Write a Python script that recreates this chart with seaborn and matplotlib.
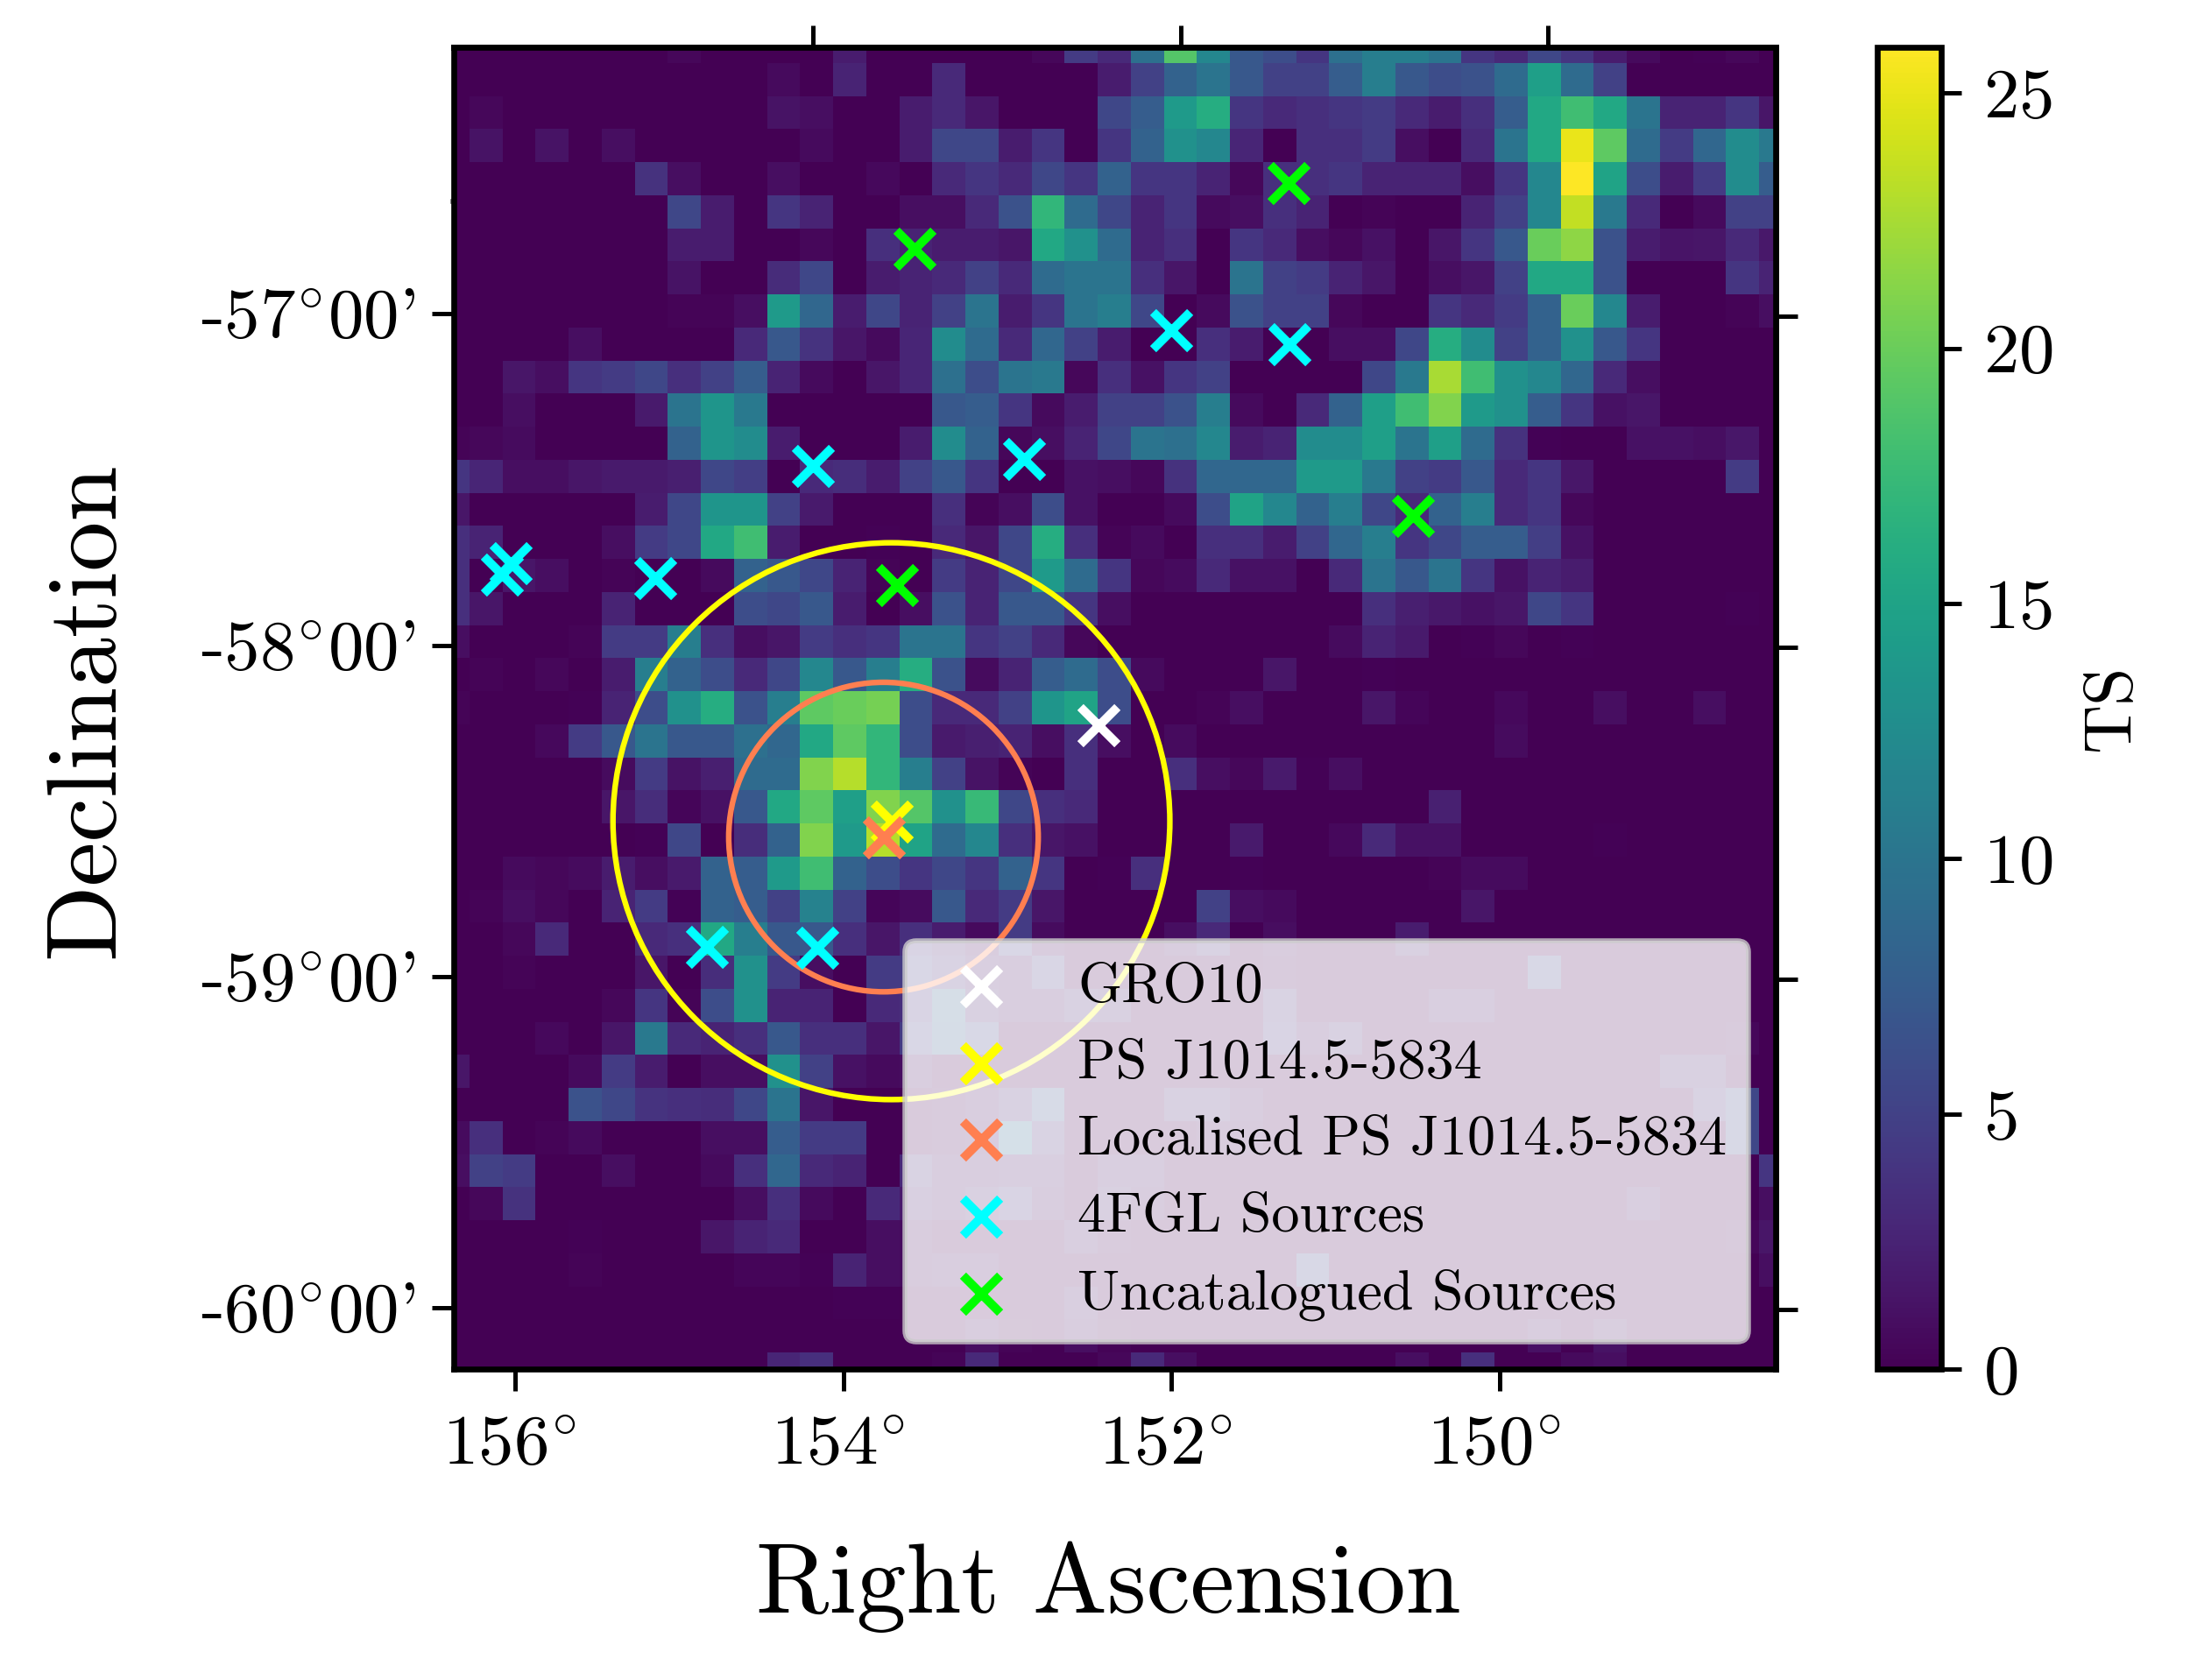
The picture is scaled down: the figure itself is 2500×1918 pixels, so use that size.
import numpy as np
import pandas as pd
import matplotlib
matplotlib.use("Agg")
import matplotlib.pyplot as plt
from matplotlib.patches import Circle
from matplotlib.transforms import ScaledTranslation
import seaborn as sns

# TS map, one list per image row (top to bottom), 41 columns
ts_rows = [
 [0,0,0,0,0,0,0,.5,0,0,0,0,2,0, 0,0,0,0,.5,4.5,3,9.5,19,12,7,6,4,9.5, 11,11,10,4,3,5.5,4,2,.7,0,.2,.5,0],
 [0,0,0,0,0,0,0,0,0,0,.7,0,2.5,0, 0,3,0,0,0,0,2,5,8,10,7,5,5,7.5, 11,7,6,6.5,9,14.5,9,5,0,0,0,0,0],
 [0,.5,0,0,0,0,0,0,0,0,1.3,1,0,0, 2,3,1.5,0,0,0,5.5,7.5,14,16,4,3,3.5,4, 4.5,3,2,3.5,7.5,15.5,18,15.5,10,2.5,2.5,4,1.5],
 [0,1.3,0,1.3,0,1,0,0,0,0,0,.7,0,0, 2,5.5,5.5,2,4,0,4,8,13,12,2.7,0,3.5,3.5, 4.5,1,0,3,10,15.5,25,19.5,9,4.5,8.5,12.5,10.5],
 [0,0,0,0,0,0,3.7,1,0,0,1,0,0,.6, 0,3,4,3,5.5,4,8,4,4,2.5,.5,3.5,3.5,4, 2.5,2.5,2.5,1,4,12,26,15,6,2,4.5,12.5,7.5],
 [0,0,0,0,0,0,0,5.5,2,0,4,2.5,0,0, 1,1,3,6.5,17,9,5.5,2.5,4,.7,1,3.5,2.5,0, .3,0,0,2.5,5,12,23.5,10.5,3,0,.7,5,5],
 [0,0,0,0,0,0,0,2,2,0,0,.5,0,3.5, 2.5,2,2,1.5,15.5,13,9,2.5,3.5,0,4,3,1,.5, 1.2,0,1.5,4,7,20,21.5,6.5,2,1.4,1.5,3,1.7],
 [0,0,0,0,0,0,0,1.3,0,0,3.2,5.5,0,2, 2.5,3,5,3,9,10,10,3.5,1.5,0,10,5,4.5,2.5, 1.5,0,1,1.5,5,15.5,15.5,6.5,0,0,0,4,2.5],
 [0,0,0,0,0,0,0,.3,.3,1,14,8.5,2,5.5, 2.5,5,10,2,4,10,11,5.5,0,.7,6.5,5,5,.5, 0,0,4,3,4.5,8,20,12,2,0,0,.3,1],
 [0,0,0,0,1,0,0,0,0,3,7,3.8,1.5,.7, 2.7,12.5,9,3,8.5,5,2,0,0,3.5,2,0,0,1, 1,5.5,16,12.5,5,8,13,7,4,0,0,.1,0],
 [0,0,1.5,1,4,4.5,5.5,3.5,5,7.5,2.5,.7,0,1.5, 2.7,9.5,6,10,10.5,.5,3.5,1.2,4,5,0,0,0,0, 5.5,10.5,22.5,18,13,12,8.5,3,1,0,0,0,0],
 [0,0,1,0,0,0,1.8,10,13.5,10.5,0,0,0,0, 0,7,7.5,4,.7,2,5,5,6.5,11,.7,0,3,8, 14.5,18,21,14,13,7.5,4,1.2,1.5,0,0,0,0],
 [.3,.5,.8,0,0,0,0,8,13.5,12.5,2,0,0,0, 2,12.5,8,.5,1,2.5,5.5,10,9.5,12,2,2.5,12.5,12.5, 14.5,10,14.5,9,3.7,.2,0,0,1.2,1.2,1,1.6,0],
 [4,2.7,1,1,1.5,1.8,1.8,2.2,5.5,4.7,0,3,3.3,2, 5,7,4,0,0,1.2,1,.5,3.7,8.5,8.5,8.5,14,14, 10.5,5,4.5,7,3,4,1.6,0,0,0,0,4.5,0],
 [1.5,0,0,0,0,0,2,5.5,13.5,13.5,5,1.8,0,0, 0,3.5,.3,1,6,1.2,0,0,.7,6,15,12,8,11, 5.5,3,8,11,3,4,.5,0,0,0,0,0,0],
 [3.5,2.5,0,0,0,1,4.5,5.5,15.5,18,2,0,0,.2, 0,3,1.5,5.5,16,3.5,.3,.7,0,3.5,3.5,2,5,8.5, 11,4,5.5,7.5,7.5,4.7,1.2,0,0,0,0,0,0],
 [3.5,0,1.5,1,0,.3,0,0,.7,8,7,5.5,2.5,.3, 0,4.5,2.5,5.5,14,9,4,.5,.8,3,1.2,1.2,0,3, 10,7,10,4,1.2,2.5,2,0,0,0,0,0,0],
 [3.5,1.5,0,0,0,2.5,0,0,0,6,5.5,7,2,0, 1,6.5,2.5,7,7,4,1,0,0,0,0,0,0,0, 3.5,2.2,1.7,1.2,1.5,5.5,4,0,0,0,0,.2,0],
 [1,0,0,0,.3,4.5,4.5,11,3.5,1,1.5,4.5,3.5,4, 10,10,4,5,3,.5,0,0,0,0,0,0,0,.8, 2.5,1.8,0,.2,.5,0,.2,0,0,0,0,0,0],
 [.1,.3,0,.5,0,2,11,8,6,3,5.5,12,7,11, 16,6.5,.8,2.5,7.5,9,6,.7,0,0,0,1.5,0,0, .2,0,0,0,0,0,0,0,0,0,0,0,0],
 [.3,0,0,0,.2,2.5,6,13,16,6.5,11,19.5,20,20.5, 6,3,3,5,13.5,15,6,0,0,.3,1,0,0,0, 1.5,.4,0,0,.6,0,0,1,0,0,1,0,0],
 [0,0,0,.6,4.5,7,10,7,7,9.5,8.5,15.5,19.5,17, 6,1.8,2.2,2.5,1,3.5,1,0,.8,0,0,0,0,0, 0,0,0,0,.8,0,0,0,0,0,0,0,0],
 [0,0,0,0,0,.8,4.5,1.3,2.2,9,9,21,23,17, 11,5,1.3,.3,0,3.5,0,0,3.5,1,.5,1.8,.2,1, 0,0,0,0,0,0,0,0,0,0,0,0,0],
 [0,0,0,0,0,1.5,3.3,.4,1.2,7,15.5,19.5,14.5,21, 19,13,17.5,5.5,3.5,3,0,0,0,0,0,0,0,0, 0,0,2.3,0,0,0,0,0,0,0,0,0,0],
 [0,0,0,0,0,0,.2,5.5,0,3.3,8,21,14,23, 15,9,12,3.5,1.5,1.2,0,0,0,0,1.8,0,0,.6, 3,1.2,1.2,0,0,0,0,.2,0,0,0,0,0],
 [0,0,.7,.5,.8,2,1,1.8,8,7.5,14,18,8,6, 4,5.5,4,8,4,0,.2,3.5,0,0,.2,0,0,0, 0,0,.3,.8,.8,0,0,0,0,0,0,0,0],
 [0,.3,1,.5,0,2.5,4.5,.2,8,7.5,5,11.5,5,.4, .8,7,3,4.5,1.5,0,0,0,0,5,1,.7,0,0, 0,0,0,1.5,0,0,0,0,0,0,0,0,0],
 [0,0,.5,3,0,0,3,3.5,15.5,11,7,7,3.5,1.5, 3.5,2,.7,4.5,.8,0,0,0,1,3,0,.9,0,0, 0,2,0,0,0,0,0,0,0,0,0,0,0],
 [0,0,.3,0,0,0,1.5,0,3.3,13,4.5,1,0,4.5, 4.5,3,1.5,1,4,0,0,0,0,0,0,.5,0,0, 0,0,0,0,0,5,0,0,0,0,0,0,0],
 [0,0,0,0,0,.5,4,.3,6,13,2.5,2.5,0,3, 3.5,7.5,2,1,1,2.5,2,0,0,0,0,3,0,0, 0,0,1.5,1.5,0,0,0,0,0,0,0,0,0],
 [0,0,0,.6,0,1.5,10.5,3,2.5,3.5,7,3.5,3.5,1.5, 4.5,7,5,0,0,0,0,0,0,0,0,3.5,1,2.5, 0,0,0,0,0,0,0,0,0,0,0,.5,0],
 [1.5,0,0,0,.7,4.5,2,0,1,1,13,5,1.2,.7, 1,0,0,0,0,0,0,0,0,0,0,0,0,0, 0,0,0,0,0,0,0,0,0,2,2,0,0],
 [0,0,0,0,6.5,5.5,3.8,3.5,3.3,5.5,10,1.5,0,0, 0,.5,1,2.5,6.5,0,0,0,2.5,2.5,1,0,0,0, 0,0,0,0,0,0,0,0,0,0,3,5.5,0],
 [.8,3.5,0,.3,.7,0,0,0,1,1,7.5,4.5,4.5,0, 0,.5,.8,8.5,3,0,0,0,0,.7,.7,0,0,0, 0,0,0,0,0,0,0,0,0,0,0,5.5,0],
 [1,5,4.5,0,0,1,0,0,.7,3.5,8.5,3,2.5,0, 3,1,1,1.5,1.5,0,1.5,1.5,0,0,0,0,0,0, 0,0,0,0,0,0,0,0,0,0,0,0,4],
 [0,.5,3.7,0,0,0,0,0,0,1,3.5,.7,0,3, 1.8,1,2,3.5,1,0,2,1,0,0,0,0,0,0, 0,0,0,0,0,0,0,0,1.5,0,0,0,1],
 [0,0,0,0,.2,0,0,0,1.5,2.5,3,0,0,1, .8,0,0,0,0,1.5,.5,0,0,0,0,0,0,0, 0,0,0,0,0,0,0,0,0,0,0,.5,1.5],
 [0,0,0,0,.3,0,0,0,0,.4,.4,.2,2.5,1, .8,1.2,1.2,0,0,0,0,0,0,0,0,0,5,0, 0,0,0,0,0,0,0,0,0,0,0,0,1],
 [0,0,0,0,0,0,0,0,0,0,0,0,.2,.2, 0,0,0,0,0,1.5,0,0,0,0,0,0,0,0, 0,0,0,0,0,0,0,0,0,0,0,0,0],
 [0,0,0,0,0,0,0,0,0,0,0,0,0,0, 0,0,1,.3,0,1,.3,0,0,0,0,0,0,0, 0,0,0,0,0,1.2,0,1.3,0,0,0,0,0],
 [0,0,0,0,0,0,0,0,0,0,2.7,3.5,0,0, 0,.3,3,0,0,0,.5,3,1,0,0,0,0,0, 0,1,0,3.5,0,0,.7,1,0,0,0,0,0],
]

# source positions in map pixels (column, row)
gro10_x, gro10_y = [19.52], [20.52]
ps_x, ps_y = [13.26], [23.43]
loc_x, loc_y = [13.02], [23.91]
fgl_x = [10.88, 17.28, 21.71, 25.30, 1.75, 1.49, 6.11, 7.67, 11.02]
fgl_y = [12.68, 12.48, 8.59, 9.00, 15.62, 15.96, 16.09, 27.24, 27.27]
unc_x = [13.97, 25.26, 29.04, 13.44]
unc_y = [6.11, 4.12, 14.21, 16.28]

ps_radius = 8.42
loc_radius = 4.68

series_labels = ["GRO10", "PS J1014.5-5834", "Localised PS J1014.5-5834",
                 "4FGL Sources", "Uncatalogued Sources"]

ra_bottom_pos = [2.38, 12.31, 22.22, 32.15]
ra_labels = ["156", "154", "152", "150"]
ra_top_pos = [11.38, 22.5, 33.62]
dec_left_pos = [8.57, 18.62, 28.63, 38.64]
dec_right_pos = [8.66, 18.68, 28.70, 38.70]
dec_labels = ["-57", "-58", "-59", "-60"]
cbar_ticks = [0, 5, 10, 15, 20, 25]

sns.set_style("ticks")
plt.rcParams["font.family"] = ["cmr10", "DejaVu Serif"]
plt.rcParams["mathtext.fontset"] = "cm"
plt.rcParams["axes.formatter.use_mathtext"] = True
plt.rcParams["axes.unicode_minus"] = False
for key in ["text.color", "axes.labelcolor", "xtick.color", "ytick.color",
            "xtick.labelcolor", "ytick.labelcolor", "axes.edgecolor"]:
    plt.rcParams[key] = "black"

fig = plt.figure(figsize=(6.25, 4.795), dpi=400)
W, H = 2500, 1918
ax = fig.add_axes([517.6/W, 1-1563.4/H, (2027.4-517.6)/W, (1563.4-53.6)/H])
cax = fig.add_axes([2143/W, 1-1563.4/H, 73/W, (1563.4-53.6)/H])

ts = pd.DataFrame(ts_rows)
sns.heatmap(ts, ax=ax, cbar_ax=cax, cmap="viridis", vmin=0, vmax=25.9,
            xticklabels=False, yticklabels=False,
            cbar_kws={"label": "TS", "ticks": cbar_ticks})
ax.set_xlim(0.515, 40.51)
ax.set_ylim(40.51, 0.515)
ax.set_aspect("equal", adjustable="box")

shift = 0.5
for (cx, cy, r, col) in [(ps_x[0], ps_y[0], ps_radius, "yellow"),
                         (loc_x[0], loc_y[0], loc_radius, "coral")]:
    ax.add_patch(Circle((cx+shift, cy+shift), r, fill=False, edgecolor=col, lw=1.15, zorder=3))

mk = dict(marker="x", s=58, linewidths=1.8, zorder=4)
groups = [(gro10_x, gro10_y, "white"), (ps_x, ps_y, "yellow"), (loc_x, loc_y, "coral"),
          (fgl_x, fgl_y, "cyan"), (unc_x, unc_y, "lime")]
for (gx, gy, col), lab in zip(groups, series_labels):
    ax.scatter(np.array(gx)+shift, np.array(gy)+shift, c=col, label=lab, **mk)

leg = ax.legend(loc="lower right", fontsize=11.55, framealpha=0.8, borderpad=0.38,
                handlelength=1.95, handletextpad=0.75, labelspacing=0.46, borderaxespad=0.49)
leg.set_zorder(10)

tick_kw = dict(length=4.5, width=0.9, direction="out", color="black")
ax.set_xticks(ra_bottom_pos, [t + r"$^{\circ}$" for t in ra_labels], fontsize=14.6)
ax.set_yticks(dec_left_pos, [t + r"$^{\circ}$00'" for t in dec_labels], fontsize=14.6, rotation=0)
ax.tick_params(axis="x", pad=5, **tick_kw)
ax.tick_params(axis="y", pad=3.3, **tick_kw)
offset = ScaledTranslation(-1.15/72, 0, fig.dpi_scale_trans)
for lab in ax.get_xticklabels():
    lab.set_transform(lab.get_transform() + offset)
ax.set_yticks([5.2], minor=True)
ax.tick_params(axis="y", which="minor", length=0.8, width=1.0, color="#888888", direction="out")
topx = ax.secondary_xaxis("top")
topx.set_xticks(ra_top_pos, [""]*len(ra_top_pos))
topx.tick_params(**tick_kw)
righty = ax.secondary_yaxis("right")
righty.set_yticks(dec_right_pos, [""]*len(dec_right_pos))
righty.tick_params(**tick_kw)

ax.set_xlabel("Right Ascension", fontsize=20.4, labelpad=12.9, x=0.495)
ax.set_ylabel("Declination", fontsize=20.5, labelpad=14, y=0.4985)

for a in [ax, topx, righty]:
    for s in a.spines.values():
        s.set_visible(True)
        s.set_linewidth(1.2)
        s.set_color("black")

cb = ax.collections[0].colorbar
cb.outline.set_visible(True)
cb.outline.set_linewidth(1.2)
cb.outline.set_edgecolor("black")
cax.tick_params(labelsize=14.6, length=4.2, width=0.9, color="black", direction="out", pad=4.5)
cb.set_label("TS", fontsize=14, labelpad=6)

fig.savefig("out.png", dpi=400)
